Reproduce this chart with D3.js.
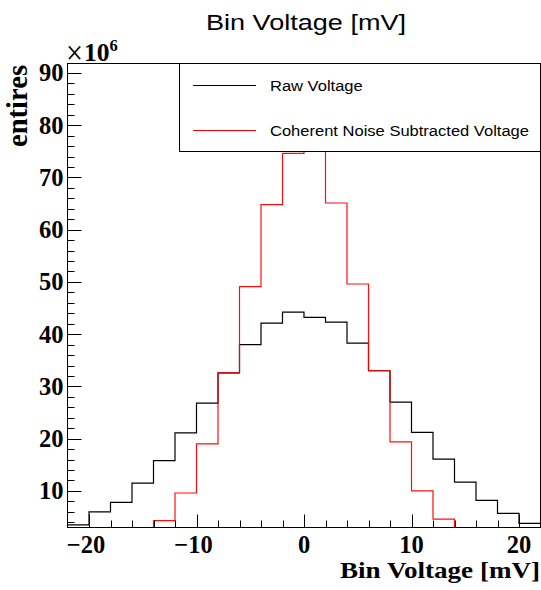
<!DOCTYPE html>
<html>
<head>
<meta charset="utf-8">
<script src="https://cdn.jsdelivr.net/npm/d3@7"></script>
<style>
  html, body { margin: 0; padding: 0; background: #fff; }
  svg { display: block; }
</style>
</head>
<body>
<svg id="chart" width="541" height="590"></svg>
<script>
// ---- data (units: entries x 10^6) ----
const binLow = [-22, -20, -18, -16, -14, -12, -10, -8, -6, -4, -2, 0, 2, 4, 6, 8, 10, 12, 14, 16, 18, 20];
const binWidth = 2;
const rawVoltage = [3.5, 6.0, 7.8, 11.5, 15.8, 21.1, 26.8, 32.6, 38.0, 42.1, 44.2, 43.2, 42.3, 38.3, 33.0, 27.0, 21.2, 16.1, 11.7, 8.2, 5.7, 3.8];
const cnsVoltage = [0.05, 0.2, 0.6, 1.8, 4.3, 9.6, 19.0, 32.6, 49.1, 64.8, 74.6, 75.5, 65.1, 49.6, 33.0, 19.4, 10.0, 4.6, 1.8, 0.6, 0.2, 0.05];
const seriesNames = ["Raw Voltage", "Coherent Noise Subtracted Voltage"];
const xMajorTicks = [-20, -10, 0, 10, 20];
const xMinorTicks = [-20, -18, -16, -14, -12, -10, -8, -6, -4, -2, 0, 2, 4, 6, 8, 10, 12, 14, 16, 18, 20];
const yMajorTicks = [10, 20, 30, 40, 50, 60, 70, 80, 90];
const yMinorTicks = [4, 6, 8, 10, 12, 14, 16, 18, 20, 22, 24, 26, 28, 30, 32, 34, 36, 38, 40, 42, 44, 46, 48, 50, 52, 54, 56, 58, 60, 62, 64, 66, 68, 70, 72, 74, 76, 78, 80, 82, 84, 86, 88, 90];

const svg = d3.select("#chart");
const L = 67.5, R = 540.5, T = 63.5, B = 527.5;

const x = d3.scaleLinear().domain([-22, 22]).range([L, R]);
const y = d3.scaleLinear().domain([3, 91.8]).range([B, T]).clamp(true);

const serif = "'Liberation Serif', 'Times New Roman', serif";
const sans = "'Liberation Sans', Arial, Helvetica, sans-serif";

svg.append("defs").append("clipPath").attr("id", "plotclip")
  .append("rect").attr("x", L).attr("y", T - 1).attr("width", R - L).attr("height", B - T + 1);

// histogram step paths
function stepPoints(vals) {
  const pts = [];
  vals.forEach((v, i) => {
    pts.push([x(binLow[i]), y(v)]);
    pts.push([x(binLow[i] + binWidth), y(v)]);
  });
  return pts;
}
const line = d3.line();
const g = svg.append("g").attr("clip-path", "url(#plotclip)");
g.append("path").attr("d", line(stepPoints(rawVoltage)))
  .attr("fill", "none").attr("stroke", "#000").attr("stroke-width", 1.2);
g.append("path").attr("d", line(stepPoints(cnsVoltage)))
  .attr("fill", "none").attr("stroke", "#ff0000").attr("stroke-width", 1.2).attr("opacity", 0.95);

// axes ticks
const ax = svg.append("g").attr("stroke", "#000").attr("stroke-width", 1);
xMinorTicks.forEach(t => {
  const major = xMajorTicks.includes(t);
  const px = Math.round(x(t)) + 0.5;
  ax.append("line").attr("x1", px).attr("x2", px).attr("y1", B).attr("y2", B - (major ? 13 : 7));
});
yMinorTicks.forEach(t => {
  const major = yMajorTicks.includes(t);
  const py = Math.round(y(t)) + 0.5;
  ax.append("line").attr("x1", L).attr("x2", L + (major ? 14 : 7)).attr("y1", py).attr("y2", py);
});

// frame
svg.append("rect").attr("x", L).attr("y", T).attr("width", R - L).attr("height", B - T)
  .attr("fill", "none").attr("stroke", "#000").attr("stroke-width", 1);

// tick labels
xMajorTicks.forEach(t => {
  svg.append("text").attr("x", x(t) + (t < 0 ? -3 : 0)).attr("y", 553)
    .attr("text-anchor", "middle").attr("font-family", serif).attr("font-weight", "bold")
    .attr("font-size", 24.5).text(t < 0 ? "\u2212" + Math.abs(t) : String(t));
});
yMajorTicks.forEach(t => {
  svg.append("text").attr("x", 63.5).attr("y", y(t) + 8.5)
    .attr("text-anchor", "end").attr("font-family", serif).attr("font-weight", "bold")
    .attr("font-size", 24.5).text(String(t));
});

// exponent  (x10^6)
svg.append("text").attr("x", 66).attr("y", 64)
  .attr("font-family", serif).attr("font-size", 34)
  .attr("textLength", 17).attr("lengthAdjust", "spacingAndGlyphs")
  .text("\u00d7");
const ex = svg.append("text").attr("x", 84).attr("y", 60.5)
  .attr("font-family", serif).attr("font-weight", "bold").attr("font-size", 25.5);
ex.append("tspan").text("10");
ex.append("tspan").attr("dy", -10).attr("font-size", 16.5).text("6");

// title
svg.append("text").attr("x", 306).attr("y", 30).attr("text-anchor", "middle")
  .attr("font-family", sans).attr("font-size", 22)
  .attr("textLength", 200).attr("lengthAdjust", "spacingAndGlyphs")
  .text("Bin Voltage [mV]");

// axis titles
svg.append("text").attr("x", 540).attr("y", 578).attr("text-anchor", "end")
  .attr("font-family", serif).attr("font-weight", "bold").attr("font-size", 24)
  .attr("textLength", 200).attr("lengthAdjust", "spacingAndGlyphs")
  .text("Bin Voltage [mV]");
svg.append("text").attr("transform", "translate(27,65) rotate(-90)")
  .attr("text-anchor", "end")
  .attr("font-family", serif).attr("font-weight", "bold").attr("font-size", 30)
  .attr("textLength", 82).attr("lengthAdjust", "spacingAndGlyphs")
  .text("entires");

// legend
const leg = svg.append("g");
leg.append("rect").attr("x", 179.5).attr("y", 63.5).attr("width", 361).attr("height", 88)
  .attr("fill", "#fff").attr("stroke", "#000").attr("stroke-width", 1);
const legColors = ["#000", "#ff0000"];
const legY = [85.5, 130.5];
const legLen = [92.7, 259];
seriesNames.forEach((name, i) => {
  leg.append("line").attr("x1", 193).attr("x2", 256).attr("y1", legY[i]).attr("y2", legY[i])
    .attr("stroke", legColors[i]).attr("stroke-width", 1);
  leg.append("text").attr("x", 270).attr("y", legY[i] + 5.5)
    .attr("font-family", sans).attr("font-size", 15.5)
    .attr("textLength", legLen[i]).attr("lengthAdjust", "spacingAndGlyphs")
    .text(name);
});
</script>
</body>
</html>
